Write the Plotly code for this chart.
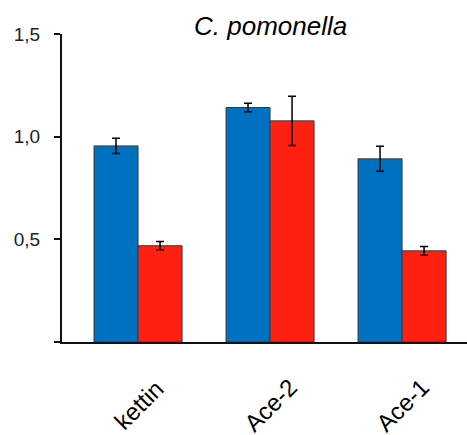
import plotly.graph_objects as go

categories = ["kettin", "Ace-2", "Ace-1"]
series_a = [0.955, 1.142, 0.892]
series_a_err = [0.037, 0.021, 0.061]
series_b = [0.469, 1.077, 0.444]
series_b_err = [0.020, 0.120, 0.021]
y_tickvals = [0, 0.5, 1.0, 1.5]
y_ticktext = ["", "0,5", "1,0", "1,5"]
title_text = "C. pomonella"

FONT = "Arial, Liberation Sans, Helvetica, sans-serif"

fig = go.Figure()
fig.add_trace(go.Bar(
    x=categories, y=series_a,
    marker=dict(color="#0070C0", line=dict(color="#3a3a3a", width=1)),
    error_y=dict(type="data", array=series_a_err, color="black", thickness=1.5, width=4),
))
fig.add_trace(go.Bar(
    x=categories, y=series_b,
    marker=dict(color="#FF2012", line=dict(color="#3a3a3a", width=1)),
    error_y=dict(type="data", array=series_b_err, color="black", thickness=1.5, width=4),
))

annotations = [
    dict(x=c, y=0, xref="x", yref="paper", text=c, showarrow=False,
         textangle=-45, xanchor="center", yanchor="middle", yshift=-63,
         font=dict(family=FONT, size=24, color="black"))
    for c in categories
]
annotations.append(dict(
    x=0.516, y=1, xref="paper", yref="paper", text="<i>" + title_text + "</i>",
    showarrow=False, xanchor="center", yanchor="middle", yshift=8,
    font=dict(family=FONT, size=26, color="black")))

fig.update_layout(
    width=467, height=435,
    margin=dict(l=62, r=0, t=34, b=93),
    paper_bgcolor="white", plot_bgcolor="white",
    barmode="group", bargap=0.333, bargroupgap=0,
    showlegend=False,
    annotations=annotations,
    font=dict(family=FONT, color="black"),
)
fig.update_xaxes(
    range=[-0.576, 2.492], showticklabels=False, ticks="",
    showline=True, linecolor="#111", linewidth=2, showgrid=False, zeroline=False,
)
fig.update_yaxes(
    range=[0, 1.5], tickvals=y_tickvals, ticktext=y_ticktext,
    ticks="outside", ticklen=6, tickwidth=1.5, tickcolor="#111",
    ticklabelstandoff=10,
    showline=True, linecolor="#111", linewidth=2, showgrid=False, zeroline=False,
    tickfont=dict(family=FONT, size=19, color="#222"),
)

fig.write_html(
    "out.html",
    config={"displayModeBar": False},
    post_script="document.body.style.margin='0px';document.body.style.overflow='hidden';",
)
